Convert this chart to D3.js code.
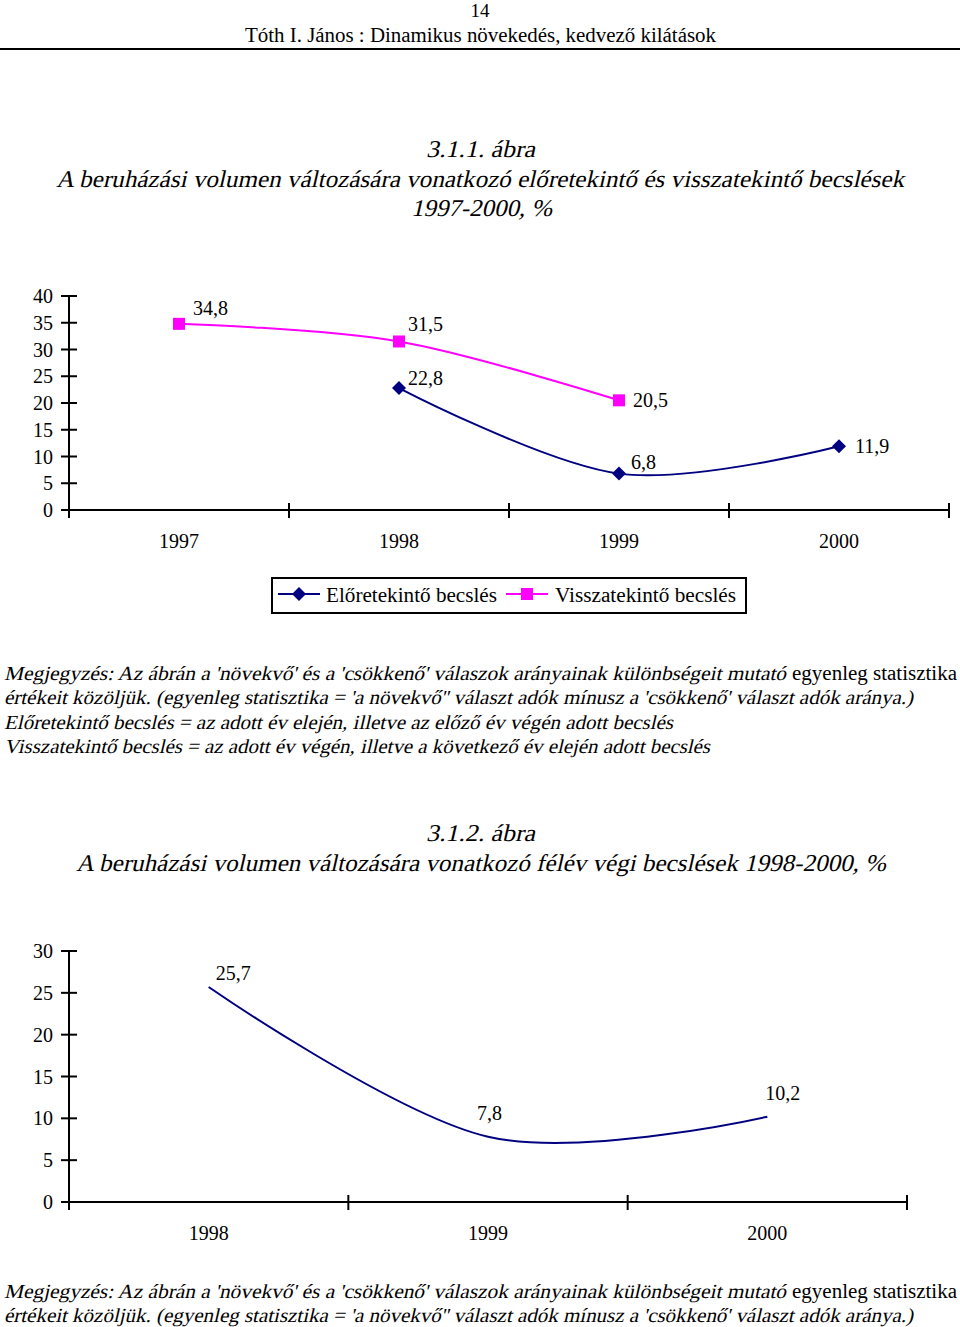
<!DOCTYPE html>
<html><head><meta charset="utf-8">
<script src="https://cdn.jsdelivr.net/npm/d3@7"></script>
<style>
body{margin:0;background:#fff;}
svg text{font-family:"Liberation Serif","Times New Roman",serif;fill:#000;}
</style></head>
<body><svg id="c" width="960" height="1327"></svg>
<script>
// ---- data ----
const years1 = ["1997","1998","1999","2000"];
const elore = [null, 22.8, 6.8, 11.9];      // Előretekintő becslés
const vissza = [34.8, 31.5, 20.5, null];     // Visszatekintő becslés
const yTicks1 = [0,5,10,15,20,25,30,35,40];

const years2 = ["1998","1999","2000"];
const felev = [25.7, 7.8, 10.2];
const yTicks2 = [0,5,10,15,20,25,30];

const seriesNames = ["Előretekintő becslés","Visszatekintő becslés"];

// ---- layout (label offsets relative to points) ----
const eloreLabelOff = [null, [9,-3], [12,-5], [16,7]];
const visszaLabelOff = [[14,-9], [9,-10], [14,7], null];
const felevLabelOff = [[7,-7], [-11,-17], [-2,-17]];

const fmt = v => v.toFixed(1).replace(".", ",");
const svg = d3.select("#c");
const NAVY = "#000080", MAG = "#FF00FF";

function txt(x, y, s, opts = {}) {
  let t;
  if (opts.italic) {
    t = svg.append("g").attr("transform", `translate(${x},${y}) skewX(-13)`)
      .append("text").attr("x", 0).attr("y", 0);
  } else {
    t = svg.append("text").attr("x", x).attr("y", y);
  }
  t.text(s).attr("font-size", opts.size || 20).attr("text-anchor", opts.anchor || "start");
  if (opts.len) t.attr("textLength", opts.len).attr("lengthAdjust", "spacingAndGlyphs");
  return t;
}

// ---- header ----
txt(480, 17, "14", {anchor: "middle", size: 19});
txt(245, 42, "Tóth I. János : Dinamikus növekedés, kedvező kilátások", {size: 20, len: 471});
svg.append("line").attr("x1", 0).attr("x2", 960).attr("y1", 49).attr("y2", 49).attr("stroke", "#000").attr("stroke-width", 2);

// ---- chart 1 titles ----
txt(426, 157, "3.1.1. ábra", {italic: true, size: 24, len: 109});
txt(56, 187, "A beruházási volumen változására vonatkozó előretekintő és visszatekintő becslések", {italic: true, size: 24, len: 848});
txt(411, 216, "1997-2000, %", {italic: true, size: 24, len: 141});

function drawAxes(x, y, ticks, years, labelY) {
  const [x0, x1] = x.range();
  const y0 = y(0);
  const g = svg.append("g").attr("stroke", "#000").attr("stroke-width", 2);
  g.append("line").attr("x1", x0).attr("x2", x0).attr("y1", y(d3.max(ticks))).attr("y2", y0);
  g.append("line").attr("x1", x0).attr("x2", x1).attr("y1", y0).attr("y2", y0);
  ticks.forEach(v => {
    g.append("line").attr("x1", x0 - 8).attr("x2", x0 + 8).attr("y1", y(v)).attr("y2", y(v));
    txt(x0 - 16, y(v) + 7, String(v), {anchor: "end"});
  });
  const bounds = years.map(d => x(d)).concat([x1]);
  bounds.forEach(b => g.append("line").attr("x1", b).attr("x2", b).attr("y1", y0 - 7).attr("y2", y0 + 8));
  years.forEach(d => txt(x(d) + x.bandwidth() / 2, labelY, d, {anchor: "middle"}));
}

// ---- chart 1 ----
const x1 = d3.scaleBand().domain(years1).range([69, 949]);
const y1 = d3.scaleLinear().domain([0, 40]).range([510, 296]);
drawAxes(x1, y1, yTicks1, years1, 548);
const cx1 = d => x1(d) + x1.bandwidth() / 2;
const line1 = d3.line().defined(d => d.v != null).x(d => cx1(d.k)).y(d => y1(d.v)).curve(d3.curveCardinal.tension(0));

function series(vals, color, offs, marker) {
  const pts = years1.map((k, i) => ({k, v: vals[i], o: offs[i]})).filter(d => d.v != null);
  svg.append("path").datum(pts).attr("d", line1).attr("fill", "none").attr("stroke", color).attr("stroke-width", 2);
  pts.forEach(d => {
    const px = cx1(d.k), py = y1(d.v);
    if (marker === "square") {
      svg.append("rect").attr("x", px - 6).attr("y", py - 6).attr("width", 12).attr("height", 12).attr("fill", color);
    } else {
      svg.append("path").attr("d", `M${px},${py - 7}L${px + 7},${py}L${px},${py + 7}L${px - 7},${py}Z`).attr("fill", color);
    }
    txt(px + d.o[0], py + d.o[1], fmt(d.v));
  });
}
series(vissza, MAG, visszaLabelOff, "square");
series(elore, NAVY, eloreLabelOff, "diamond");

// legend
svg.append("rect").attr("x", 272).attr("y", 578).attr("width", 474).attr("height", 35).attr("fill", "none").attr("stroke", "#000").attr("stroke-width", 2);
svg.append("line").attr("x1", 278).attr("x2", 320).attr("y1", 594).attr("y2", 594).attr("stroke", NAVY).attr("stroke-width", 2);
svg.append("path").attr("d", "M299,587L306,594L299,601L292,594Z").attr("fill", NAVY);
txt(326, 602, seriesNames[0], {len: 171});
svg.append("line").attr("x1", 506).attr("x2", 548).attr("y1", 594).attr("y2", 594).attr("stroke", MAG).attr("stroke-width", 2);
svg.append("rect").attr("x", 521).attr("y", 588).attr("width", 12).attr("height", 12).attr("fill", MAG);
txt(555, 602, seriesNames[1], {len: 181});

// notes
function notes(yb) {
  txt(4, yb, "Megjegyzés: Az ábrán a 'növekvő' és a 'csökkenő' válaszok arányainak különbségeit mutató", {italic: true, size: 20, len: 782});
  txt(792, yb, "egyenleg statisztika", {size: 20, len: 165});
  txt(4, yb + 24, "értékeit közöljük. (egyenleg statisztika = 'a növekvő'' választ adók mínusz a 'csökkenő' választ adók aránya.)", {italic: true, size: 20, len: 909});
}
notes(680);
txt(4, 729, "Előretekintő becslés = az adott év elején, illetve az előző év végén adott becslés", {italic: true, size: 20, len: 669});
txt(4, 753, "Visszatekintő becslés = az adott év végén, illetve a következő év elején adott becslés", {italic: true, size: 20, len: 706});

// ---- chart 2 ----
txt(426, 841, "3.1.2. ábra", {italic: true, size: 24, len: 109});
txt(76, 871, "A beruházási volumen változására vonatkozó félév végi becslések 1998-2000, %", {italic: true, size: 24, len: 810});

const x2 = d3.scaleBand().domain(years2).range([69, 907]);
const y2 = d3.scaleLinear().domain([0, 30]).range([1202, 951]);
drawAxes(x2, y2, yTicks2, years2, 1240);
const cx2 = d => x2(d) + x2.bandwidth() / 2;
const pts2 = years2.map((k, i) => ({k, v: felev[i]}));
svg.append("path").datum(pts2)
  .attr("d", d3.line().x(d => cx2(d.k)).y(d => y2(d.v)).curve(d3.curveCardinal.tension(0)))
  .attr("fill", "none").attr("stroke", NAVY).attr("stroke-width", 2);
pts2.forEach((d, i) => txt(cx2(d.k) + felevLabelOff[i][0], y2(d.v) + felevLabelOff[i][1], fmt(d.v)));

notes(1298);
</script></body></html>
